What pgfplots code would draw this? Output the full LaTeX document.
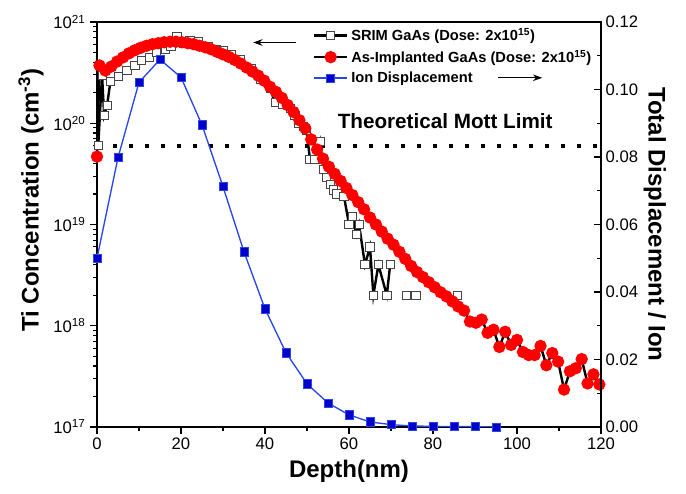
\documentclass[border=0pt]{standalone}
\usepackage{pgfplots}
\pgfplotsset{compat=1.18}
\usepackage{pgfplotstable}
\usepackage{fontspec}
\setmainfont{Liberation Sans}
\usetikzlibrary{arrows.meta}
\definecolor{blueS}{RGB}{0,0,200}
\definecolor{blueE}{RGB}{40,70,235}
\definecolor{sqgray}{RGB}{70,70,70}

\pgfplotstableread{
x y
0.3 6.0e19
1.2 3.0e20
1.7 1.2e20
2.4 1.5e20
3.2 2.6e20
5.1 2.9e20
7.1 3.3e20
9.0 3.7e20
10.6 4.2e20
12.4 4.5e20
14.2 5.0e20
16.2 5.4e20
17.6 5.8e20
19.0 7.2e20
20.5 6.1e20
22.1 6.6e20
24.1 6.4e20
26.5 5.7e20
28.5 5.4e20
30.1 5.2e20
32.0 4.8e20
34.0 4.3e20
36.8 3.5e20
39.0 2.7e20
41.2 2.2e20
42.4 1.6e20
44.2 1.55e20
46.0 1.4e20
47.1 1.2e20
47.9 1.0e20
49.2 9.3e19
49.9 8.5e19
50.7 4.4e19
51.9 4.4e19
53.1 6.6e19
53.9 3.5e19
54.7 2.9e19
55.5 2.5e19
56.3 2.2e19
57.1 2.0e19
58.8 1.9e19
60.0 1.0e19
60.8 1.2e19
61.8 8.0e18
62.4 1.0e19
63.8 4.0e18
65.0 6.0e18
65.8 2.0e18
67.0 4.0e18
69.0 2.0e18
69.8 4.0e18
71.0 nan
73.7 2.0e18
74.8 nan
75.9 2.0e18
80.0 nan
85.8 2.0e18
}\srim

\pgfplotstableread{
x y
0.0 4.68e19
0.6 3.72e20
2.0 3.31e20
3.4 3.63e20
4.8 4.07e20
6.2 4.47e20
7.6 4.90e20
9.0 5.25e20
10.4 5.56e20
11.8 5.82e20
13.2 6.03e20
14.6 6.17e20
16.0 6.31e20
17.4 6.38e20
18.8 6.38e20
20.2 6.31e20
21.6 6.17e20
23.0 6.03e20
24.4 5.82e20
25.8 5.62e20
27.2 5.37e20
28.6 5.07e20
30.0 4.79e20
31.4 4.52e20
32.8 4.22e20
34.2 3.89e20
35.6 3.55e20
37.0 3.24e20
38.4 2.95e20
39.8 2.63e20
41.2 2.29e20
42.6 2.04e20
44.0 1.78e20
45.4 1.51e20
46.8 1.29e20
48.2 1.07e20
49.6 8.91e19
51.0 6.92e19
52.4 5.50e19
53.8 4.47e19
55.2 3.72e19
56.6 3.16e19
58.0 2.69e19
59.4 2.29e19
60.8 1.95e19
62.2 1.66e19
63.6 1.41e19
65.0 1.17e19
66.4 1.00e19
67.8 8.51e18
69.2 7.24e18
70.6 6.31e18
72.0 5.37e18
73.4 4.57e18
74.8 3.89e18
76.2 3.39e18
77.6 3.02e18
79.0 2.69e18
80.4 2.40e18
81.8 2.14e18
83.2 1.95e18
84.6 1.74e18
86.0 1.55e18
87.4 1.41e18
88.8 1.10e18
90.2 1.07e18
91.6 1.15e18
93.0 8.51e17
94.4 9.12e17
95.8 6.17e17
97.2 8.71e17
98.6 6.46e17
100.0 7.24e17
101.4 5.50e17
102.8 5.13e17
104.2 5.13e17
105.6 6.31e17
107.0 4.07e17
108.4 5.37e17
109.8 4.42e17
111.2 2.34e17
112.6 3.55e17
114.0 3.80e17
115.4 4.68e17
116.8 2.69e17
118.2 3.31e17
119.6 2.63e17
}\asimp

\pgfplotstableread{
x y
0 0.0500
5 0.0798
10 0.1021
15 0.1089
20 0.1036
25 0.0895
30 0.0712
35 0.0519
40 0.0350
45 0.0220
50 0.0128
55 0.0071
60 0.0036
65 0.0015
70 0.0007
75 0.0003
80 0.0002
85 0.0001
90 0.0001
95 0.0000
}\iondisp

\begin{document}
\begin{tikzpicture}
\pgfplotsset{
  every axis/.append style={
    scale only axis, width=378pt, height=303.75pt,
    xmin=0, xmax=120,
    axis line style={line width=0.9pt},
    every tick/.style={line width=0.8pt, black},
    major tick length=5pt, minor tick length=3pt,
    tick label style={font=\fontsize{12.5}{14}\selectfont},
    label style={font=\bfseries\fontsize{18}{21}\selectfont},
    /pgf/number format/assume math mode=true,
  },
}
\begin{axis}[
  name=ax,
  ymode=log, ymin=1e17, ymax=1e21,
  ytick={1e17,1e18,1e19,1e20,1e21},
  yticklabels={10\textsuperscript{17},10\textsuperscript{18},10\textsuperscript{19},10\textsuperscript{20},10\textsuperscript{21}},
  xtick={0,20,...,120}, minor x tick num=1,
  xtick pos=bottom, ytick pos=left, tick align=outside,
  xlabel={Depth(nm)},
  ylabel={Ti Concentration (cm\textsuperscript{-3})},
  xlabel style={at={(axis description cs:0.5,-0.109)}, anchor=center},
  ylabel style={at={(axis description cs:-0.131,0.56)}, anchor=center},
  unbounded coords=jump,
  legend style={draw=none, fill=none, at={(0.425,0.995)}, anchor=north west,
    font=\bfseries\fontsize{11}{13}\selectfont, row sep=1.5pt, inner sep=1pt},
  legend cell align=left,
  legend image code/.code={\draw[mark repeat=2, mark phase=2] plot coordinates {(0cm,0cm) (0.44cm,0cm) (0.88cm,0cm)};},
  clip=false,
]
\addplot[forget plot, black, line width=3pt, dash pattern=on 3.2pt off 8.8pt] coordinates {(0,6e19) (120,6e19)};
\addplot[black, line width=1.8pt, mark=square*, mark size=3.1pt,
  mark options={solid, fill=white, draw=sqgray, line width=0.6pt}] table[x=x,y=y] {\srim};
\addlegendentry{SRIM GaAs (Dose: 2x10\textsuperscript{15})}
\addplot[black, line width=1.8pt, mark=*, mark size=3.7pt,
  mark options={solid, fill=red, draw=red}] table[x=x,y=y] {\asimp};
\addlegendentry{As-Implanted GaAs (Dose: 2x10\textsuperscript{15})}
\addlegendimage{blueE, line width=1pt, mark=square*, mark size=3.1pt, mark options={fill=blueS, draw=blueE, line width=0.5pt}}
\addlegendentry{Ion Displacement}
\draw[line width=0.8pt, -{Stealth[length=7pt, width=5pt]}] (axis cs:47.5,6.27e20) -- (axis cs:37.2,6.27e20);
\draw[line width=0.8pt, -{Stealth[length=7pt, width=5pt]}] (axis cs:95.5,2.81e20) -- (axis cs:106.0,2.81e20);
\node[font=\bfseries\fontsize{15.5}{18}\selectfont] at (axis cs:82.9,1.05e20) {Theoretical Mott Limit};
\end{axis}
\begin{axis}[
  axis x line=none, axis y line*=right,
  ymin=0, ymax=0.12,
  ytick={0,0.02,...,0.12}, minor y tick num=1,
  tick align=inside,
  yticklabel style={/pgf/number format/fixed, /pgf/number format/fixed zerofill, /pgf/number format/precision=2},
  ylabel={Total Displacement / Ion},
  ylabel style={at={(axis description cs:1.107,0.5)}, anchor=center, rotate=180},
]
\addplot[blueE, line width=1pt, mark=square*, mark size=3.1pt,
  mark options={fill=blueS, draw=blueE, line width=0.5pt}] table[x=x,y=y] {\iondisp};
\end{axis}
\path (ax.south west) ++(-72.75pt,-50.25pt);
\path (ax.north east) ++(63.75pt,16.5pt);
\end{tikzpicture}
\end{document}
